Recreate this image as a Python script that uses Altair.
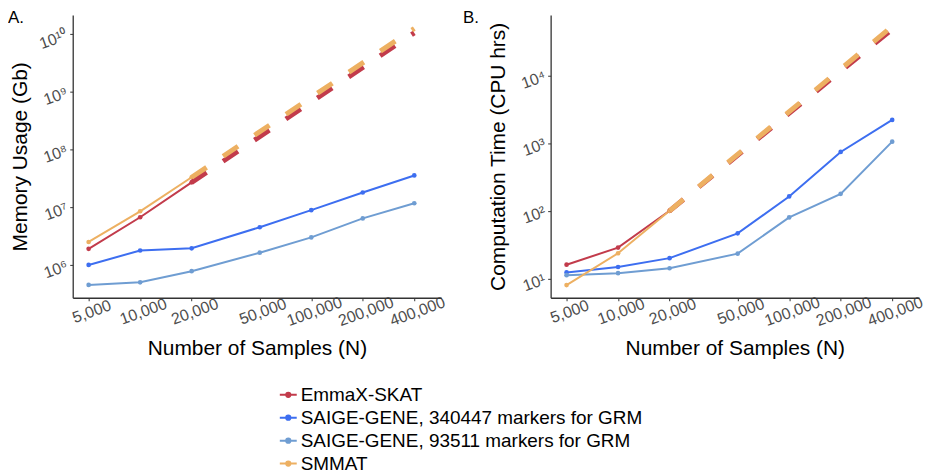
import altair as alt
import pandas as pd

# ---------------- data ----------------
N = [5000, 10000, 20000, 50000, 100000, 200000, 400000]
N_SHORT = [5000, 10000, 20000]
N_PROJ = [20000, 400000]

METHODS = ["EmmaX-SKAT",
           "SAIGE-GENE, 340447 markers for GRM",
           "SAIGE-GENE, 93511 markers for GRM",
           "SMMAT"]
COLORS = ["#C23B4B", "#3D6EF0", "#6F9DD2", "#EDB062"]

# Panel A: memory usage (Gb)
mem_emmax = [1.9e6, 6.7e6, 2.7e7]
mem_smmat = [2.5e6, 8.5e6, 3.3e7]
mem_saige_340k = [1.0e6, 1.78e6, 1.94e6, 4.5e6, 8.9e6, 1.8e7, 3.55e7]
mem_saige_93k = [4.5e5, 5.0e5, 7.8e5, 1.63e6, 3.0e6, 6.4e6, 1.17e7]
mem_emmax_proj = [2.7e7, 1.05e10]
mem_smmat_proj = [3.3e7, 1.25e10]

# Panel B: computation time (CPU hrs)
time_emmax = [16, 28.6, 100]
time_smmat = [8, 23.6, 100]
time_saige_340k = [12.3, 14.8, 20, 46.5, 163, 740, 2200]
time_saige_93k = [11.2, 12, 14.2, 23.3, 80, 178, 1050]
time_emmax_proj = [100, 4.8e4]
time_smmat_proj = [100, 5.3e4]

Y_TICKS_A = [1e6, 1e7, 1e8, 1e9, 1e10]
Y_TICKS_B = [1e1, 1e2, 1e3, 1e4]
Y_DOM_A = [2.7e5, 2.14e10]
Y_DOM_B = [5.2, 7.8e4]
X_DOM = [4036, 574000]

PANEL_LETTERS = ["A.", "B."]
Y_TITLES = ["Memory Usage (Gb)", "Computation Time (CPU hrs)"]
X_TITLE = "Number of Samples (N)"


def frame(pairs):
    rows = []
    for method, xs, ys in pairs:
        for xv, yv in zip(xs, ys):
            rows.append({"N": xv, "value": yv, "method": method})
    return pd.DataFrame(rows)


obs_A = frame([(METHODS[0], N_SHORT, mem_emmax),
               (METHODS[1], N, mem_saige_340k),
               (METHODS[2], N, mem_saige_93k),
               (METHODS[3], N_SHORT, mem_smmat)])
proj_A = frame([(METHODS[0], N_PROJ, mem_emmax_proj),
                (METHODS[3], N_PROJ, mem_smmat_proj)])
obs_B = frame([(METHODS[0], N_SHORT, time_emmax),
               (METHODS[1], N, time_saige_340k),
               (METHODS[2], N, time_saige_93k),
               (METHODS[3], N_SHORT, time_smmat)])
proj_B = frame([(METHODS[0], N_PROJ, time_emmax_proj),
                (METHODS[3], N_PROJ, time_smmat_proj)])

SUP = str.maketrans("0123456789", "⁰¹²³⁴⁵⁶⁷⁸⁹")


def sup_expr(ticks):
    k = "round(log(datum.value)/LN10)"
    parts = []
    for t in ticks:
        e = len(str(int(t))) - 1
        parts.append(f"{k} == {e} ? '10{str(e).translate(SUP)}'")
    return " : ".join(parts) + " : ''"


FONT = "Liberation Sans"
W, H = 370, 284
LEG_PATH = ("M-1,0L1,0M-0.25,0a0.25,0.25 0 1,0 0.5,0"
            "a0.25,0.25 0 1,0 -0.5,0")

color_scale = alt.Scale(domain=METHODS, range=COLORS)


def panel(obs, proj, ydom, yticks, ytitle, letter, letter_dx):
    x = alt.X("N:Q",
              scale=alt.Scale(type="log", domain=X_DOM, nice=False),
              axis=alt.Axis(values=N, format=",d", labelAngle=340,
                            labelAlign="center", labelBaseline="top",
                            labelPadding=3, labelOverlap=False,
                            labelFontSize=16, title=X_TITLE,
                            titleX=W / 2, titleY=57, titleAlign="center",
                            titleBaseline="alphabetic"))
    y = alt.Y("value:Q",
              scale=alt.Scale(type="log", domain=ydom, nice=False),
              axis=alt.Axis(values=yticks, labelExpr=sup_expr(yticks),
                            labelAngle=340, labelPadding=3,
                            labelOverlap=False, labelFontSize=16,
                            title=ytitle, titleAngle=270, titleX=-46,
                            titleY=H / 2, titleAlign="center",
                            titleBaseline="alphabetic"))
    legend = alt.Legend(orient="none", legendX=207, legendY=372, title=None,
                        symbolType=LEG_PATH, symbolSize=289,
                        symbolStrokeWidth=2, labelFontSize=19,
                        labelFont=FONT, labelColor="black", rowPadding=3,
                        labelOffset=3, padding=0, labelLimit=0)
    lines = alt.Chart(obs).mark_line(strokeWidth=2).encode(
        x=x, y=y, color=alt.Color("method:N", scale=color_scale,
                                  legend=legend))
    pts = alt.Chart(obs).mark_circle(size=22, opacity=1).encode(
        x=x, y=y, color=alt.Color("method:N", scale=color_scale,
                                  legend=None))
    dash = alt.Chart(proj).mark_line(strokeWidth=5, strokeDash=[18, 20],
                                     strokeCap="butt").encode(
        x=x, y=y, color=alt.Color("method:N", scale=color_scale,
                                  legend=None))
    tag = alt.Chart(pd.DataFrame({"t": [letter]})).mark_text(
        font=FONT, fontSize=17, align="left", baseline="top",
        color="black").encode(text="t:N", x=alt.value(letter_dx),
                              y=alt.value(-5))
    return alt.layer(lines, pts, dash, tag).properties(width=W, height=H)


pA = panel(obs_A, proj_A, Y_DOM_A, Y_TICKS_A, Y_TITLES[0],
           PANEL_LETTERS[0], -65)
pB = panel(obs_B, proj_B, Y_DOM_B, Y_TICKS_B, Y_TITLES[1],
           PANEL_LETTERS[1], -88)

chart = alt.hconcat(pA, pB, spacing=110, bounds="flush").resolve_scale(
    color="shared"
).properties(
    padding=0,
).configure_axis(
    grid=False, labelFont=FONT, titleFont=FONT,
    titleFontSize=21, titleFontWeight="normal", labelColor="#4D4D4D",
    titleColor="black", domainColor="#333333", domainWidth=1.3,
    tickColor="#333333", tickSize=3,
).configure_view(stroke=None)

chart.save("out.html", embed_options={"renderer": "svg", "actions": False})
